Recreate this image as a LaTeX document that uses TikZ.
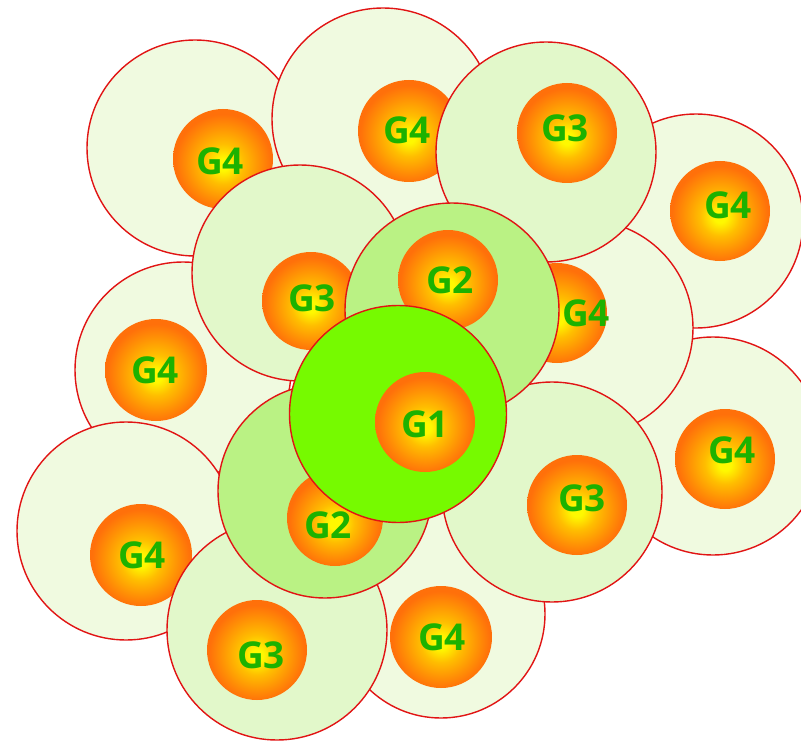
\documentclass[tikz,border=0pt]{standalone}
\usepackage{fontspec}
\setmainfont{Open Sans}
\definecolor{edgered}{RGB}{225,20,20}
\definecolor{fillGfour}{RGB}{240,250,224}
\definecolor{fillGthree}{RGB}{226,248,202}
\definecolor{fillGtwo}{RGB}{186,242,132}
\definecolor{fillGone}{RGB}{118,250,0}
\definecolor{ballY}{RGB}{255,248,0}
\definecolor{ballM}{RGB}{255,190,0}
\definecolor{ballO}{RGB}{255,145,5}
\definecolor{ballR}{RGB}{255,112,10}
\definecolor{labelgreen}{RGB}{28,178,0}
\pgfdeclareradialshading{ball}{\pgfpoint{0bp}{-3bp}}{color(0bp)=(ballY); color(3bp)=(ballY); color(10bp)=(ballM); color(18bp)=(ballO); color(24bp)=(ballR); color(25bp)=(ballR); color(50bp)=(ballR)}
\tikzset{
  outerc/.style={circle, draw=edgered, line width=1.4pt, inner sep=0pt},
  gfour/.style={outerc, fill=fillGfour},
  gthree/.style={outerc, fill=fillGthree},
  gtwo/.style={outerc, fill=fillGtwo},
  gone/.style={outerc, fill=fillGone},
  ballc/.style={circle, shading=ball, inner sep=0pt},
  lbl/.style={text=labelgreen, font=\fontsize{37}{37}\selectfont\bfseries, inner sep=0pt}
}
\begin{document}
\begin{tikzpicture}[x=1pt,y=-1pt]
\useasboundingbox (0,0) rectangle (801,741);
% A
\node[gfour, minimum size=216pt] (A) at (195,148) {};
\node[ballc, minimum size=100pt] (Ai) at (223,159) {};
\node[lbl] (At) at (220,161) {G4};
% B
\node[gfour, minimum size=222pt] (B) at (383,119) {};
\node[ballc, minimum size=102pt] (Bi) at (409,131) {};
\node[lbl] (Bt) at (407,130) {G4};
% D
\node[gfour, minimum size=214pt] (D) at (696,221) {};
\node[ballc, minimum size=100pt] (Di) at (720,211) {};
\node[lbl] (Dt) at (728,205) {G4};
% F
\node[gfour, minimum size=216pt] (F) at (183,370) {};
\node[ballc, minimum size=102pt] (Fi) at (156,370) {};
\node[lbl] (Ft) at (155,370) {G4};
% K
\node[gfour, minimum size=218pt] (K) at (126,531) {};
\node[ballc, minimum size=102pt] (Ki) at (141,555) {};
\node[lbl] (Kt) at (142,555) {G4};
% N
\node[gfour, minimum size=208pt] (N) at (441,614) {};
\node[ballc, minimum size=102pt] (Ni) at (441,637) {};
\node[lbl] (Nt) at (442,637) {G4};
% I
\node[gfour, minimum size=218pt] (I) at (713,446) {};
\node[ballc, minimum size=100pt] (Ii) at (725,459) {};
\node[lbl] (It) at (732,450) {G4};
% G
\node[gfour, minimum size=216pt] (G) at (585,328) {};
\node[ballc, minimum size=100pt] (Gi) at (557,313) {};
\node[lbl] (Gt) at (586,313) {G4};
% C
\node[gthree, minimum size=220pt] (C) at (546,152) {};
\node[ballc, minimum size=100pt] (Ci) at (567,133) {};
\node[lbl] (Ct) at (565,128) {G3};
% E
\node[gthree, minimum size=216pt] (E) at (300,273) {};
\node[ballc, minimum size=98pt] (Ei) at (311,301) {};
\node[lbl] (Et) at (312,298) {G3};
% M
\node[gthree, minimum size=220pt] (M) at (277,630) {};
\node[ballc, minimum size=100pt] (Mi) at (257,650) {};
\node[lbl] (Mt) at (261,655) {G3};
% J
\node[gthree, minimum size=220pt] (J) at (552,492) {};
\node[ballc, minimum size=100pt] (Ji) at (577,505) {};
\node[lbl] (Jt) at (582,498) {G3};
% H
\node[gtwo, minimum size=214pt] (H) at (452,310) {};
\node[ballc, minimum size=100pt] (Hi) at (448,280) {};
\node[lbl] (Ht) at (450,280) {G2};
% L
\node[gtwo, minimum size=214pt] (L) at (325,491) {};
\node[ballc, minimum size=96pt] (Li) at (335,518) {};
\node[lbl] (Lt) at (328,525) {G2};
% O
\node[gone, minimum size=217pt] (O) at (398,414) {};
\node[ballc, minimum size=100pt] (Oi) at (425,422) {};
\node[lbl] (Ot) at (425,424) {G1};
\end{tikzpicture}
\end{document}
